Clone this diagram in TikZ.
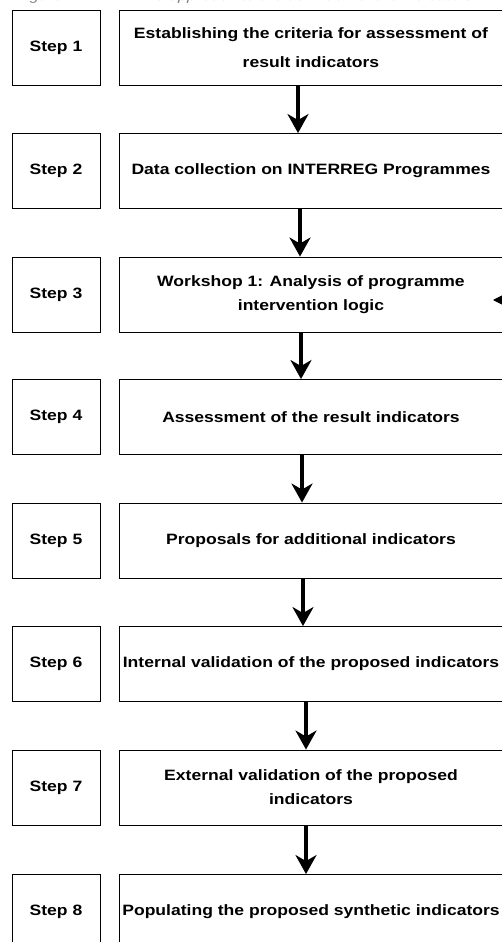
\documentclass[tikz,border=0pt]{standalone}
\usepackage{fontspec}
\setmainfont{Liberation Sans}[FakeStretch=1.17]
\usetikzlibrary{arrows.meta,calc}

\tikzset{
  stepbox/.style={draw, line width=0.9pt, minimum width=88pt, minimum height=75pt,
    inner sep=0pt, font=\fontsize{15}{24}\selectfont\bfseries},
  taskbox/.style={draw, line width=0.9pt, minimum width=384pt, minimum height=75pt,
    inner sep=0pt, align=center, font=\fontsize{15}{24}\selectfont\bfseries},
  flow/.style={-{Stealth[width=21pt,length=19pt,inset=6pt]}, line width=3.5pt},
  feedback/.style={-{Triangle[width=10pt,length=10pt]}, line width=1pt},
  caption/.style={anchor=base west, inner sep=0pt, text=gray,
    font=\fontsize{14}{16}\selectfont\itshape}
}

\begin{document}
\begin{tikzpicture}[x=1pt, y=-1pt]
\useasboundingbox (0,0) rectangle (502,942);
\begin{scope}
\clip (0,0) rectangle (502,942);

% caption line above the chart
\node[caption] (cap) at (16,1) {\makebox[120pt][l]{Figure 1:}The approach to the definition of the indicators};

% step labels
\node[stepbox] (s1) at (56,48)    {Step 1};
\node[stepbox] (s2) at (56,171)   {Step 2};
\node[stepbox] (s3) at (56,294.5) {Step 3};
\node[stepbox] (s4) at (56,417)   {Step 4};
\node[stepbox] (s5) at (56,540.5) {Step 5};
\node[stepbox] (s6) at (56,664)   {Step 6};
\node[stepbox] (s7) at (56,787.5) {Step 7};
\node[stepbox] (s8) at (56,912)   {Step 8};

% activities
\node[taskbox, font=\fontsize{15}{29}\selectfont\bfseries] (m1) at (311,48)
  {Establishing the criteria for assessment of\\result indicators};
\node[taskbox] (m2) at (311,171)   {Data collection on INTERREG Programmes};
\node[taskbox] (m3) at (311,294.5) {Workshop 1: Analysis of programme\\intervention logic};
\node[taskbox] (m4) at (311,417)   {Assessment of the result indicators};
\node[taskbox] (m5) at (311,540.5) {Proposals for additional indicators};
\node[taskbox] (m6) at (311,664)   {Internal validation of the proposed indicators};
\node[taskbox] (m7) at (311,787.5) {External validation of the proposed\\indicators};
\node[taskbox] (m8) at (311,912)   {Populating the proposed synthetic indicators};

% sequence arrows
\draw[flow] ($(m1.south)+(-13,0)$) -- ($(m2.north)+(-13,0)$);
\draw[flow] ($(m2.south)+(-11,0)$) -- ($(m3.north)+(-11,0)$);
\draw[flow] ($(m3.south)+(-10,0)$) -- ($(m4.north)+(-10,0)$);
\draw[flow] ($(m4.south)+(-9,0)$)  -- ($(m5.north)+(-9,0)$);
\draw[flow] ($(m5.south)+(-8,0)$)  -- ($(m6.north)+(-8,0)$);
\draw[flow] ($(m6.south)+(-5,0)$)  -- ($(m7.north)+(-5,0)$);
\draw[flow] ($(m7.south)+(-5,0)$)  -- ($(m8.north)+(-5,0)$);

% feedback arrow entering workshop 1 from the right
\coordinate (fbstart) at (560,300);
\coordinate (fbend) at (493,300);
\draw[feedback] (fbstart) -- (fbend);
\end{scope}
\end{tikzpicture}
\end{document}
